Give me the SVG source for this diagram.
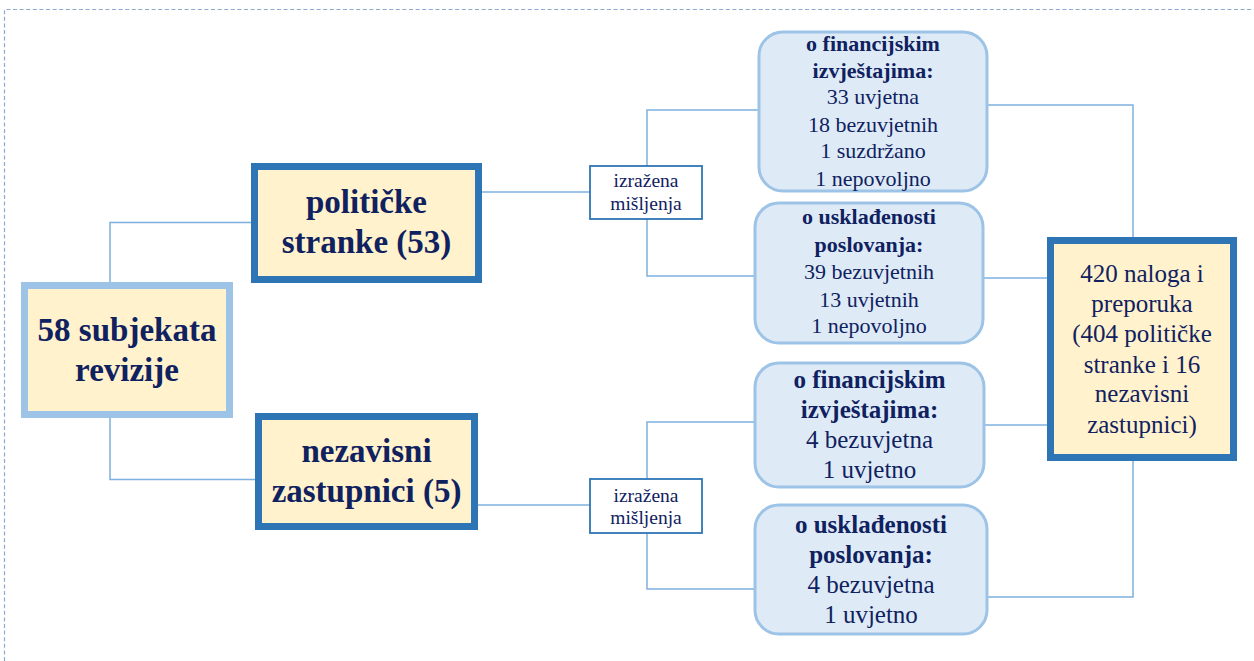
<svg xmlns="http://www.w3.org/2000/svg" width="1254" height="661" viewBox="0 0 1254 661">
<style>
.t{fill:#10215F;text-anchor:middle}
.b{font-weight:bold}
.big{font-size:33px;font-weight:bold}
.mid{font-size:22px}
.mid2{font-size:25px}
.sm{font-size:19.5px}
.dark{fill:#FFF2CC;stroke:#2E75B6;stroke-width:7}
.light{fill:#FFF2CC;stroke:#9DC3E6;stroke-width:7}
.op{fill:#FFFFFF;stroke:#2E75B6;stroke-width:1.8}
.rb{fill:#DEEBF7;stroke:#9DC3E6;stroke-width:3}
.c{fill:none;stroke:#7EB0DF;stroke-width:1.5}
</style>
<rect width="1254" height="661" fill="#FFFFFF"/>
<path d="M4.5,661 V9.5 H1254" fill="none" stroke="#8DA9CB" stroke-width="1.2" stroke-dasharray="4,2.6"/>
<g id="connectors">
<path class="c" d="M110,282 V222.5 H251"/>
<path class="c" d="M110,418 V479.5 H255"/>
<path class="c" d="M482,192 H590"/>
<path class="c" d="M478,505 H590"/>
<path class="c" d="M647,166 V110 H759"/>
<path class="c" d="M647,219 V276 H755"/>
<path class="c" d="M647,479 V422 H755"/>
<path class="c" d="M647,533 V589 H755"/>
<path class="c" d="M987,105 H1133 V237"/>
<path class="c" d="M983,278 H1047"/>
<path class="c" d="M984,425 H1047"/>
<path class="c" d="M987,597 H1133 V461"/>
</g>
<g font-family="Liberation Serif, Times New Roman, DejaVu Serif, serif">
<g id="root">
<rect class="light" x="24.5" y="285.5" width="205" height="129"/>
<text class="t big" x="127" y="341">58 subjekata</text>
<text class="t big" x="127" y="381">revizije</text>
</g>
<g id="politicke">
<rect class="dark" x="254.5" y="166.5" width="224" height="113"/>
<text class="t big" x="366.5" y="213">političke</text>
<text class="t big" x="366.5" y="253">stranke (53)</text>
</g>
<g id="nezavisni">
<rect class="dark" x="258.5" y="416.5" width="216" height="110"/>
<text class="t big" x="366.5" y="462">nezavisni</text>
<text class="t big" x="366.5" y="502">zastupnici (5)</text>
</g>
<g id="misljenja1">
<rect class="op" x="590" y="166" width="112" height="53"/>
<text class="t sm" x="646" y="187">izražena</text>
<text class="t sm" x="646" y="210">mišljenja</text>
</g>
<g id="misljenja2">
<rect class="op" x="590" y="479" width="112" height="54"/>
<text class="t sm" x="646" y="502">izražena</text>
<text class="t sm" x="646" y="524">mišljenja</text>
</g>
<g id="fin1">
<rect class="rb" x="759" y="32" width="228" height="159" rx="24"/>
<text class="t mid b" x="873" y="51">o financijskim</text>
<text class="t mid b" x="873" y="78">izvještajima:</text>
<text class="t mid" x="873" y="104">33 uvjetna</text>
<text class="t mid" x="873" y="132">18 bezuvjetnih</text>
<text class="t mid" x="873" y="158">1 suzdržano</text>
<text class="t mid" x="873" y="186">1 nepovoljno</text>
</g>
<g id="usk1">
<rect class="rb" x="755" y="203" width="228" height="140" rx="24"/>
<text class="t mid b" x="869" y="224">o usklađenosti</text>
<text class="t mid b" x="869" y="252">poslovanja:</text>
<text class="t mid" x="869" y="279">39 bezuvjetnih</text>
<text class="t mid" x="869" y="307">13 uvjetnih</text>
<text class="t mid" x="869" y="333">1 nepovoljno</text>
</g>
<g id="fin2">
<rect class="rb" x="755" y="363" width="229" height="124" rx="24"/>
<text class="t mid2 b" x="869.5" y="388">o financijskim</text>
<text class="t mid2 b" x="869.5" y="418">izvještajima:</text>
<text class="t mid2" x="869.5" y="448">4 bezuvjetna</text>
<text class="t mid2" x="869.5" y="478">1 uvjetno</text>
</g>
<g id="usk2">
<rect class="rb" x="755" y="505" width="232" height="129" rx="24"/>
<text class="t mid2 b" x="871" y="533">o usklađenosti</text>
<text class="t mid2 b" x="871" y="563">poslovanja:</text>
<text class="t mid2" x="871" y="593">4 bezuvjetna</text>
<text class="t mid2" x="871" y="623">1 uvjetno</text>
</g>
<g id="nalozi">
<rect class="dark" x="1050.5" y="240.5" width="183" height="217" stroke-width="6.5"/>
<text class="t mid2" x="1142" y="282">420 naloga i</text>
<text class="t mid2" x="1142" y="312">preporuka</text>
<text class="t mid2" x="1142" y="342">(404 političke</text>
<text class="t mid2" x="1142" y="373">stranke i 16</text>
<text class="t mid2" x="1142" y="402">nezavisni</text>
<text class="t mid2" x="1142" y="433">zastupnici)</text>
</g>
</g>
</svg>
